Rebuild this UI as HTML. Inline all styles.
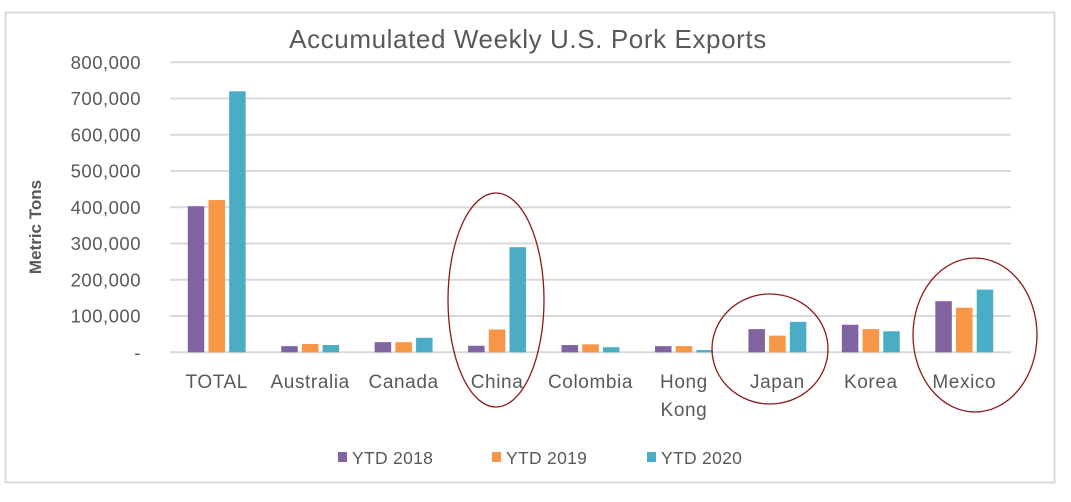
<!DOCTYPE html>
<html><head><meta charset="utf-8"><style>
body{margin:0;background:#fff;width:1071px;height:497px;overflow:hidden;font-family:"Liberation Sans",sans-serif}
</style></head><body>
<svg id="chart" width="1071" height="497" xmlns="http://www.w3.org/2000/svg">
<rect x="5.5" y="12.5" width="1049" height="470" fill="#fff" stroke="#d9d9d9" stroke-width="2"/>
<text x="528" y="48" text-anchor="middle" font-size="26" letter-spacing="0.6" fill="#595959">Accumulated Weekly U.S. Pork Exports</text>
<text transform="translate(41,227) rotate(-90)" text-anchor="middle" font-size="17" font-weight="bold" fill="#595959">Metric Tons</text>
<g id="grid"></g><g id="bars"></g><g id="labels"></g>
<ellipse cx="496" cy="300" rx="48" ry="107" fill="none" stroke="#8b1a1a" stroke-width="1.3"/>
<ellipse cx="770" cy="349" rx="58" ry="55" fill="none" stroke="#8b1a1a" stroke-width="1.3"/>
<ellipse cx="975" cy="335" rx="62" ry="77" fill="none" stroke="#8b1a1a" stroke-width="1.3"/>
<g id="legend"></g>
</svg>
<script>
const categories=[["TOTAL"],["Australia"],["Canada"],["China"],["Colombia"],["Hong","Kong"],["Japan"],["Korea"],["Mexico"]];
const ytd2018=[403000,17000,28000,18000,20000,17000,64000,76000,141000];
const ytd2019=[420000,23000,28000,63000,22000,17000,46000,64000,123000];
const ytd2020=[720000,20000,40000,290000,14000,6000,84000,58000,173000];
const yTicks=[0,100000,200000,300000,400000,500000,600000,700000,800000];
const yTickLabels=["-","100,000","200,000","300,000","400,000","500,000","600,000","700,000","800,000"];
const seriesNames=["YTD 2018","YTD 2019","YTD 2020"];
const colors=["#8064a2","#f79646","#4bacc6"];
const NS="http://www.w3.org/2000/svg";
const x0=170,x1=1011,y0=352.3,yTop=62.3,yMax=800000;
const band=(x1-x0)/categories.length;
const y=v=>y0-(v/yMax)*(y0-yTop);
function mk(t,a,p){const e=document.createElementNS(NS,t);for(const k in a)e.setAttribute(k,a[k]);document.getElementById(p).appendChild(e);return e;}
yTicks.forEach((t,i)=>{
 const l=mk('line',{x1:x0,x2:x1,y1:y(t),y2:y(t),stroke:'#d9d9d9','stroke-width':2},'grid');
 
 
 const tx=mk('text',{x:141,y:y(t)+6.5,'text-anchor':'end','font-size':18.5,'letter-spacing':0.5,fill:'#595959'},'grid');
 tx.textContent=yTickLabels[i];
 
 
});
const series=[ytd2018,ytd2019,ytd2020];
const bw=16.5,gap=4.2;
categories.forEach((c,i)=>{
 const cx=x0+band*(i+0.5);
 series.forEach((s,j)=>{
  const bx=cx+(j-1)*(bw+gap)-bw/2;
  const r=mk('rect',{x:bx,y:y(s[i]),width:bw,height:y0-y(s[i]),fill:colors[j]},'bars');
  
  
 });
 c.forEach((w,k)=>{
  const t=mk('text',{x:cx,y:388+k*28,'text-anchor':'middle','font-size':19,'letter-spacing':0.6,fill:'#595959'},'labels');
  t.textContent=w;
  
  
 });
});
const lx=[338,492,647];
seriesNames.forEach((n,j)=>{
 const r=mk('rect',{x:lx[j],y:452,width:9,height:10,fill:colors[j]},'legend');
 
 
 const t=mk('text',{x:lx[j]+14,y:464,'font-size':17.5,'letter-spacing':0.3,fill:'#595959'},'legend');
 t.textContent=n;
 
 
});
</script>
</body></html>
